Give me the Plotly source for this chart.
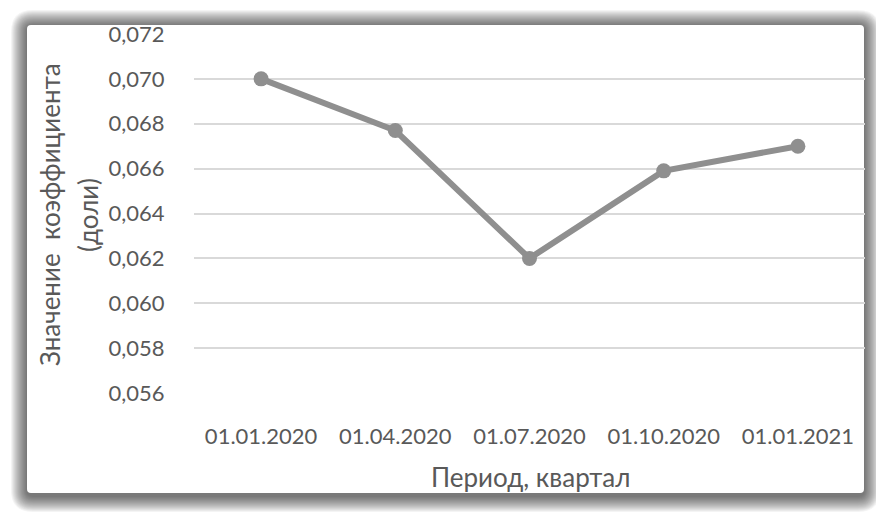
import plotly.graph_objects as go

# Quarterly values of the coefficient (shares)
periods = ["01.01.2020", "01.04.2020", "01.07.2020", "01.10.2020", "01.01.2021"]
coef_values = [0.0700, 0.0677, 0.0620, 0.0659, 0.0670]
y_ticks = [0.056, 0.058, 0.060, 0.062, 0.064, 0.066, 0.068, 0.070, 0.072]

W, H = 876, 513
# plot area in pixels
PX0, PX1, PY0, PY1 = 194, 865, 34, 393

TEXT = "#595959"
LINE = "#8f8f8f"
FONT = "Lato, 'Open Sans', sans-serif"


def px_x(x):
    return (x - PX0) / (PX1 - PX0)


def px_y(y):
    return (PY1 - y) / (PY1 - PY0)


def rounded_rect(x0, y0, x1, y1, r):
    """SVG path (paper coords) for a rounded rectangle given in pixels."""
    def P(x, y):
        return f"{px_x(x):.5f},{px_y(y):.5f}"
    return (
        f"M {P(x0 + r, y0)} L {P(x1 - r, y0)} Q {P(x1, y0)} {P(x1, y0 + r)} "
        f"L {P(x1, y1 - r)} Q {P(x1, y1)} {P(x1 - r, y1)} "
        f"L {P(x0 + r, y1)} Q {P(x0, y1)} {P(x0, y1 - r)} "
        f"L {P(x0, y0 + r)} Q {P(x0, y0)} {P(x0 + r, y0)} Z"
    )


# card frame with soft shadow
CX0, CY0, CX1, CY1 = 27, 25, 864, 493
shapes = []
N = 16
for i in range(N, 0, -1):
    shapes.append(dict(
        type="path", xref="paper", yref="paper", layer="below",
        path=rounded_rect(CX0 - i, CY0 - i + 1, CX1 + i, CY1 + i + 3, 6 + i),
        fillcolor="rgba(0,0,0,0.045)", line=dict(width=0),
    ))
shapes.append(dict(
    type="path", xref="paper", yref="paper", layer="below",
    path=rounded_rect(CX0, CY0, CX1, CY1, 4),
    fillcolor="white", line=dict(width=0),
))

fig = go.Figure()
fig.add_trace(go.Scatter(
    x=periods, y=coef_values, mode="lines+markers",
    line=dict(color=LINE, width=6),
    marker=dict(color=LINE, size=15),
    cliponaxis=False, showlegend=False,
))

fig.update_layout(
    width=W, height=H,
    margin=dict(l=PX0, r=W - PX1, t=PY0, b=H - PY1),
    paper_bgcolor="white", plot_bgcolor="rgba(0,0,0,0)",
    separators=",.",
    font=dict(family=FONT, color=TEXT, size=22),
    shapes=shapes,
    xaxis=dict(
        type="category", range=[-0.5, 4.5], showgrid=False, zeroline=False,
        showline=False, ticks="outside", ticklen=24, tickcolor="rgba(0,0,0,0)",
        tickfont=dict(size=22, color=TEXT),
    ),
    yaxis=dict(
        range=[0.056, 0.072], tickvals=y_ticks, tickformat=".3f",
        showgrid=True, gridcolor="#d9d9d9", gridwidth=2, zeroline=False,
        showline=False, ticks="outside", ticklen=24, tickcolor="rgba(0,0,0,0)",
        tickfont=dict(size=22, color=TEXT),
    ),
    annotations=[
        dict(text="Значение  коэффициента", xref="paper", yref="paper",
             x=px_x(50), y=px_y(215), textangle=-90, showarrow=False,
             xanchor="center", yanchor="middle", font=dict(size=26, color=TEXT)),
        dict(text="(доли)", xref="paper", yref="paper",
             x=px_x(88), y=px_y(215), textangle=-90, showarrow=False,
             xanchor="center", yanchor="middle", font=dict(size=26, color=TEXT)),
        dict(text="Период, квартал", xref="paper", yref="paper",
             x=px_x(530), y=px_y(477), showarrow=False,
             xanchor="center", yanchor="middle", font=dict(size=26, color=TEXT)),
    ],
)

fig.write_html("out.html")
